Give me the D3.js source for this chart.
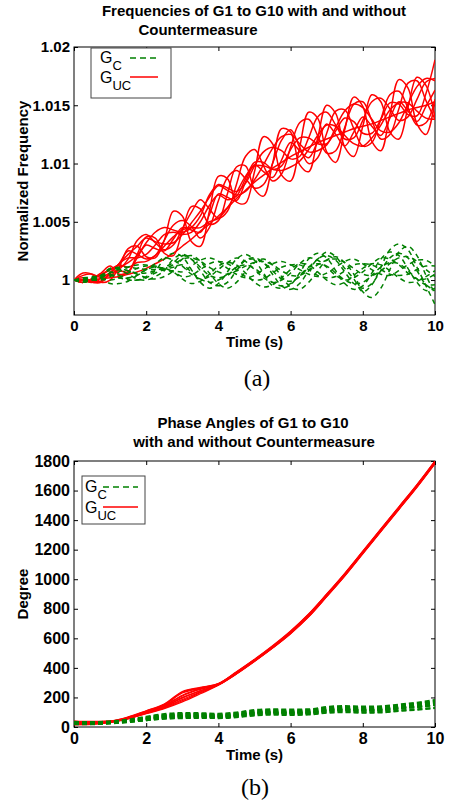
<!DOCTYPE html>
<html>
<head>
<meta charset="utf-8">
<style>
  body { margin: 0; background: #fff; }
  svg { display: block; }
</style>
</head>
<body>
<div id="vis"></div>

<script src="https://cdn.jsdelivr.net/npm/d3@7"></script>
<script>

// ---- Data ---- //

// (a) frequencies: sampled every 0.25 s, values are (normalized frequency - 1) x 1000
const freqTime = [0,0.25,0.5,0.75,1,1.25,1.5,1.75,2,2.25,2.5,2.75,3,3.25,3.5,3.75,4,4.25,4.5,4.75,
  5,5.25,5.5,5.75,6,6.25,6.5,6.75,7,7.25,7.5,7.75,8,8.25,8.5,8.75,9,9.25,9.5,9.75,10];

// G_UC, generators 1..10 (no countermeasure)
const freqDevUC = [
  [0,0,0,0.1,0.2,0.3,0.5,0.7,1.0,1.4,1.8,2.3,2.9,3.5,4.2,4.8,5.5,6.2,7.0,7.7,8.4,9.0,9.6,10.1,10.6,11.0,11.4,11.8,12.1,12.4,12.7,13.0,13.2,13.4,13.7,14.0,14.3,14.6,14.8,15.0,15.3],
  [0.0,0.6,0.5,-0.2,0.0,1.1,2.7,2.9,2.0,1.9,3.4,5.9,5.5,3.3,2.9,5.9,8.9,8.7,6.7,6.6,9.3,12.3,11.7,9.0,8.5,11.4,14.4,13.9,11.0,10.1,12.9,15.7,14.9,11.9,11.1,14.2,17.2,16.5,13.4,12.5,15.5],
  [0.0,0.0,-0.2,-0.1,0.6,1.4,2.5,2.2,1.8,2.1,3.4,4.7,5.1,4.6,3.6,4.5,6.8,8.8,9.4,8.7,7.9,8.2,10.0,12.0,12.9,11.4,10.0,10.5,12.6,14.5,14.6,13.0,11.5,11.8,13.8,15.9,16.2,14.8,13.3,13.5,15.5],
  [0.0,0.0,-0.2,-0.2,0.6,1.4,2.2,2.9,3.6,3.3,3.1,3.2,3.9,4.9,5.9,7.1,8.1,7.7,7.3,7.6,8.6,9.9,11.3,12.3,12.5,11.7,11.0,11.1,11.6,13.1,14.5,15.1,14.8,13.8,12.8,12.7,13.5,15.1,16.6,17.3,17.1],
  [0.0,0.0,-0.2,0.2,0.6,0.8,0.7,1.9,3.0,2.7,2.5,3.5,4.5,4.3,4.1,5.6,7.4,7.1,6.8,8.4,9.9,9.3,8.8,10.3,11.8,11.1,10.5,11.9,13.4,12.5,11.5,12.7,14.0,13.2,12.4,13.9,15.3,14.5,13.6,14.9,16.3],
  [0.0,-0.2,0.1,0.6,1.2,0.5,0.7,2.2,3.7,3.6,2.3,2.1,4.2,6.3,6.1,4.8,5.1,7.4,9.7,9.8,7.8,7.2,10.0,13.0,12.7,9.9,9.3,12.2,15.0,14.3,11.4,10.6,13.2,15.9,15.3,12.7,12.1,14.8,17.4,16.7,14.0],
  [0.0,-0.2,0.1,0.5,0.9,1.1,1.5,2.1,3.2,4.1,4.5,4.3,4.1,4.5,5.5,7.3,8.2,7.9,7.6,8.3,9.8,11.0,11.4,11.1,10.4,10.6,12.2,14.0,14.4,13.3,12.1,12.2,13.7,15.3,15.6,14.7,13.7,14.0,15.5,17.0,17.3],
  [0.0,-0.2,0.1,0.4,0.9,1.3,1.1,1.5,1.6,2.1,2.9,3.7,4.3,4.5,4.5,5.0,5.3,6.2,7.5,8.9,9.8,9.8,9.5,9.4,9.7,10.2,11.2,12.4,13.3,13.2,12.4,11.7,11.5,12.2,13.3,14.6,15.2,15.2,14.5,13.9,13.8],
  [0.0,0.2,-0.1,-0.1,0.6,1.4,1.9,1.9,2.2,3.0,3.9,4.1,3.9,4.1,5.0,6.4,7.3,6.9,7.2,8.7,10.1,10.1,9.5,9.8,11.2,12.2,12.2,11.7,11.7,12.8,13.9,13.6,12.6,12.6,13.8,15.2,15.1,14.2,14.1,16.0,18.9],
  [0.0,0.4,0.5,0.2,0.4,0.9,1.8,3.4,3.9,3.2,2.6,3.0,4.4,5.8,6.9,6.1,5.3,5.9,8.2,10.6,11.2,9.8,8.5,9.1,11.4,13.5,13.8,12.4,10.9,11.1,13.1,15.1,15.3,13.7,12.1,12.5,14.7,16.9,17.1,15.4,13.8]
];

// G_C, generators 1..10 (with countermeasure)
const freqDevC = [
  [0.0,0.0,0.2,0.4,0.7,0.4,0.1,0.0,0.3,0.8,1.8,2.3,2.0,0.9,-0.2,-0.7,-0.3,0.7,1.8,2.2,1.7,0.6,-0.5,-0.7,-0.4,0.6,1.8,2.3,1.9,0.8,-0.3,-0.8,-0.5,0.6,1.8,2.4,2.1,1.0,-0.2,-0.9,-0.7],
  [0.0,-0.2,0.1,0.4,1.0,0.9,0.5,0.1,0.0,0.3,0.8,1.8,2.2,1.8,0.8,-0.2,-0.5,-0.2,0.8,1.7,1.9,1.5,0.5,-0.5,-0.8,-0.3,0.8,1.8,2.1,1.7,0.7,-0.3,-0.7,-0.3,0.8,1.9,2.3,1.9,0.8,-0.4,-0.9],
  [0.0,0.1,0.3,0.3,0.5,0.2,0.2,0.4,0.9,1.4,1.9,1.7,1.2,0.5,0.1,0.3,0.9,1.5,1.9,1.6,0.9,0.2,-0.2,0.0,0.6,1.4,1.9,1.7,1.1,0.4,0.0,0.2,0.7,1.4,1.9,1.8,1.3,0.6,0.1,0.1,0.5],
  [0.0,-0.2,0.0,0.2,0.6,0.9,0.8,0.5,0.2,0.1,0.3,0.8,1.8,2.1,1.6,0.6,-0.3,-0.7,-0.2,0.7,1.5,1.8,1.3,0.3,-0.6,-0.8,-0.2,0.8,1.7,2.0,1.5,0.5,-1.0,-1.5,-0.7,0.9,2.4,2.9,2.1,0.4,-1.2],
  [0.0,-0.1,0.1,0.3,1.0,1.0,0.8,0.6,0.6,0.8,1.1,1.5,2.1,1.8,1.1,0.4,0.2,0.4,1.1,1.7,1.8,1.5,0.8,0.1,-0.1,0.3,1.1,1.8,2.4,2.0,1.0,0.1,-1.0,-0.4,1.1,2.6,3.1,2.6,1.1,-0.5,-2.1],
  [0.0,0.1,0.1,0.1,0.0,0.2,0.6,1.0,1.2,1.2,0.9,0.7,0.3,0.4,0.9,1.4,1.6,1.4,0.9,0.3,0.0,0.1,0.6,1.1,1.3,1.3,0.9,0.4,0.2,0.3,0.8,1.3,1.4,1.3,0.9,0.5,0.4,0.5,0.9,1.2,1.2],
  [0.0,0.2,0.2,0.2,-0.3,-0.3,-0.1,0.4,0.9,1.1,1.0,0.7,0.1,-0.3,-0.1,0.5,1.2,1.5,1.3,0.6,-0.2,-0.6,-0.4,0.2,0.9,1.4,1.3,0.7,0.0,-0.4,-0.2,0.4,1.0,1.4,1.3,0.8,0.2,-0.2,-0.1,0.3,0.8],
  [0.0,0.0,0.0,0.0,0.3,0.7,1.1,1.3,1.3,1.1,0.8,0.8,0.7,1.2,1.7,1.9,1.6,1.0,0.5,0.2,0.4,0.9,1.4,1.6,1.3,0.9,0.5,0.3,0.6,1.1,1.6,1.8,1.4,0.9,0.5,0.4,0.8,1.3,1.7,1.7,1.2],
  [0.0,0.0,0.2,0.4,0.4,0.2,0.0,0.0,0.2,0.6,0.9,1.1,1.3,0.7,0.1,-0.2,0.0,0.5,1.1,1.3,1.0,0.4,-0.2,-0.5,-0.3,0.4,1.1,1.4,1.2,0.6,0.0,-0.3,-0.2,0.4,1.1,1.5,1.4,0.8,0.1,-0.4,-0.4],
  [0.0,-0.1,0.0,0.2,0.9,1.1,1.1,1.0,0.9,0.9,1.0,1.3,1.8,1.9,1.6,1.1,0.7,0.5,0.8,1.2,1.5,1.6,1.3,0.8,0.4,0.4,0.8,1.3,1.7,1.8,1.5,1.0,0.5,0.4,0.8,1.4,1.9,2.0,1.6,0.9,0.3]
];

// (b) phase angles in degrees, sampled every 0.5 s
const phaseTime = [0,0.5,1,1.5,2,2.5,3,3.5,4,4.5,5,5.5,6,6.5,7,7.5,8,8.5,9,9.5,10];

const phaseUC = [
  [15,18,30,55,90,125,170,225,283,360,445,535,635,750,885,1025,1175,1325,1475,1625,1785],
  [40,38,42,68,110,155,240,268,293,370,455,545,645,760,895,1035,1185,1335,1485,1635,1795],
  [30,28,36,62,102,145,215,260,290,367,452,542,643,757,892,1032,1182,1332,1482,1632,1792],
  [20,22,33,58,95,132,185,238,286,363,448,538,637,753,888,1028,1178,1328,1478,1628,1788],
  [35,32,38,64,105,150,230,262,292,373,458,550,650,765,900,1040,1190,1340,1490,1640,1800],
  [25,26,34,58,98,138,200,246,287,361,446,536,633,747,884,1024,1176,1326,1476,1626,1786],
  [28,27,35,60,100,142,210,255,289,366,451,541,639,754,889,1029,1179,1329,1479,1629,1791],
  [18,20,31,56,92,128,178,232,284,359,444,534,631,745,882,1022,1172,1322,1472,1622,1782],
  [38,35,40,66,108,152,235,265,294,371,456,546,647,763,898,1038,1188,1338,1488,1638,1798],
  [22,24,34,59,97,135,195,244,286,364,449,539,641,756,891,1031,1181,1331,1481,1631,1789]
];

const phaseC = [
  [25,25,28,35,45,58,62,64,63,70,82,88,86,88,100,105,100,102,112,120,130],
  [30,30,33,45,62,78,84,84,80,88,104,110,108,110,126,132,128,130,142,152,168],
  [20,21,26,36,50,62,68,68,66,74,88,94,92,94,108,114,110,112,124,134,148],
  [35,34,38,50,70,88,95,94,90,98,115,120,118,120,136,142,138,140,152,165,183],
  [28,28,31,41,56,71,76,76,73,81,96,101,99,101,116,121,116,119,131,141,156],
  [22,22,27,37,52,66,71,71,69,77,91,96,94,96,110,115,111,114,126,136,150],
  [26,26,30,42,58,74,80,80,77,85,99,104,102,104,119,124,120,122,135,145,160],
  [18,19,24,33,46,56,60,61,60,66,78,83,81,84,96,100,96,98,108,116,128],
  [32,31,35,47,65,82,88,88,85,93,108,114,112,114,130,136,132,134,146,158,175],
  [24,24,29,39,54,68,74,74,71,79,94,99,97,99,113,118,114,117,129,139,153]
];

// Ticks
const timeTicks = [0,2,4,6,8,10];
const freqTicks = [1,1.005,1.01,1.015,1.02];
const freqTickLabels = ["1","1.005","1.01","1.015","1.02"];
const phaseTicks = [0,200,400,600,800,1000,1200,1400,1600,1800];

const RED = "#ff0000", GREEN = "#008000";
const SANS = "'Liberation Sans', Arial, Helvetica, sans-serif";
const SERIF = "'Liberation Serif', 'Times New Roman', serif";


// ---- Setup ---- //

const svg = d3.select("#vis")
  .append("svg")
    .attr("width", 451)
    .attr("height", 806);

// Axis box with inward ticks on all four sides
function frame(x, y, o) {
  const g = svg.append("g");
  const [xl, xr] = x.range(), [yb, yt] = y.range();

  const style = s => s.attr("font-family", SANS).attr("font-weight", "bold")
    .attr("font-size", o.tickFont).call(a => a.select(".domain").remove());

  g.append("g").attr("transform", `translate(0,${yb})`)
    .call(d3.axisBottom(x).tickValues(timeTicks).tickFormat(d3.format("d"))
      .tickSize(-4).tickPadding(o.xPad)).call(style);
  g.append("g").attr("transform", `translate(0,${yt})`)
    .call(d3.axisTop(x).tickValues(timeTicks).tickFormat("").tickSize(-4)).call(style);
  g.append("g").attr("transform", `translate(${xl},0)`)
    .call(d3.axisLeft(y).tickValues(o.yTicks).tickFormat((d, i) => o.yLabels[i])
      .tickSize(-4).tickPadding(o.yPad)).call(style);
  g.append("g").attr("transform", `translate(${xr},0)`)
    .call(d3.axisRight(y).tickValues(o.yTicks).tickFormat("").tickSize(-4)).call(style);

  g.append("rect")
    .attr("x", xl).attr("y", yt)
    .attr("width", xr - xl).attr("height", yb - yt)
    .attr("fill", "none").attr("stroke", "black").attr("stroke-width", 1);

  // titles and labels
  o.title.forEach(t => {
    g.append("text").attr("x", t[0]).attr("y", t[1]).attr("text-anchor", "middle")
      .attr("font-family", SANS).attr("font-weight", "bold").attr("font-size", 15)
      .text(t[2]);
  });
  g.append("text").attr("x", (xl + xr) / 2).attr("y", o.xLabelY).attr("text-anchor", "middle")
    .attr("font-family", SANS).attr("font-weight", "bold").attr("font-size", 15)
    .text("Time (s)");
  g.append("text")
    .attr("transform", `translate(28,${(yb + yt) / 2}) rotate(-90)`)
    .attr("text-anchor", "middle")
    .attr("font-family", SANS).attr("font-weight", "bold").attr("font-size", 15)
    .text(o.yLabel);
  g.append("text").attr("x", o.sub[0]).attr("y", o.sub[1]).attr("text-anchor", "middle")
    .attr("font-family", SERIF).attr("font-size", 24).text(o.sub[2]);

  // clip for the data lines
  svg.append("clipPath").attr("id", o.clip)
    .append("rect").attr("x", xl).attr("y", yt).attr("width", xr - xl).attr("height", yb - yt);
  return svg.append("g").attr("clip-path", `url(#${o.clip})`);
}

function legend(o) {
  const g = svg.append("g");
  g.append("rect").attr("x", o.box[0]).attr("y", o.box[1])
    .attr("width", o.box[2]).attr("height", o.box[3])
    .attr("fill", "white").attr("stroke", "#444").attr("stroke-width", 1);
  const rows = [["C", GREEN, "6,4", o.rowY[0], 5], ["UC", RED, null, o.rowY[1], 6]];
  rows.forEach(r => {
    const t = g.append("text").attr("x", o.textX).attr("y", r[3])
      .attr("font-family", SANS).attr("font-size", 16).text("G");
    t.append("tspan").attr("dy", 6.5).attr("font-size", 13).text(r[0]);
    g.append("line")
      .attr("x1", o.line[0]).attr("x2", o.line[1])
      .attr("y1", r[3] - r[4]).attr("y2", r[3] - r[4])
      .attr("stroke", r[1]).attr("stroke-width", 1.5)
      .attr("stroke-dasharray", r[2]);
  });
}


// ---- (a) Frequencies ---- //

const xA = d3.scaleLinear().domain([0, 10]).range([74, 435]);
const yA = d3.scaleLinear().domain([0.997, 1.02]).range([315, 47]);

const plotA = frame(xA, yA, {
  tickFont: 15, xPad: 5, yPad: 4,
  yTicks: freqTicks, yLabels: freqTickLabels,
  title: [[254, 16, "Frequencies of G1 to G10 with and without"], [198, 35, "Countermeasure"]],
  xLabelY: 347, yLabel: "Normalized Frequency",
  sub: [257, 386, "(a)"], clip: "clipA"
});

const lineA = d3.line()
  .x((d, i) => xA(freqTime[i]))
  .y(d => yA(1 + d / 1000))
  .curve(d3.curveCatmullRom.alpha(0.5));

freqDevUC.forEach(s => {
  plotA.append("path").datum(s).attr("d", lineA)
    .attr("fill", "none").attr("stroke", RED).attr("stroke-width", 1.5);
});
freqDevC.forEach(s => {
  plotA.append("path").datum(s).attr("d", lineA)
    .attr("fill", "none").attr("stroke", GREEN).attr("stroke-width", 1.5)
    .attr("stroke-dasharray", "5,4");
});

legend({ box: [91, 48, 80, 50], rowY: [63, 83], textX: 100, line: [130, 158] });


// ---- (b) Phase angles ---- //

const xB = d3.scaleLinear().domain([0, 10]).range([74, 435]);
const yB = d3.scaleLinear().domain([0, 1800]).range([727, 461]);

const plotB = frame(xB, yB, {
  tickFont: 16, xPad: 6, yPad: 4,
  yTicks: phaseTicks, yLabels: phaseTicks.map(String),
  title: [[253, 428, "Phase Angles of G1 to G10"], [254, 447, "with and without Countermeasure"]],
  xLabelY: 760, yLabel: "Degree",
  sub: [255, 795, "(b)"], clip: "clipB"
});

const lineB = d3.line()
  .x((d, i) => xB(phaseTime[i]))
  .y(d => yB(d))
  .curve(d3.curveMonotoneX);

phaseUC.forEach(s => {
  plotB.append("path").datum(s).attr("d", lineB)
    .attr("fill", "none").attr("stroke", RED).attr("stroke-width", 1.3);
});
phaseC.forEach(s => {
  plotB.append("path").datum(s).attr("d", lineB)
    .attr("fill", "none").attr("stroke", GREEN).attr("stroke-width", 2)
    .attr("stroke-dasharray", "5,3");
});

legend({ box: [82, 476, 63, 48], rowY: [492, 513], textX: 85, line: [103, 138] });

</script>
</body>
</html>
